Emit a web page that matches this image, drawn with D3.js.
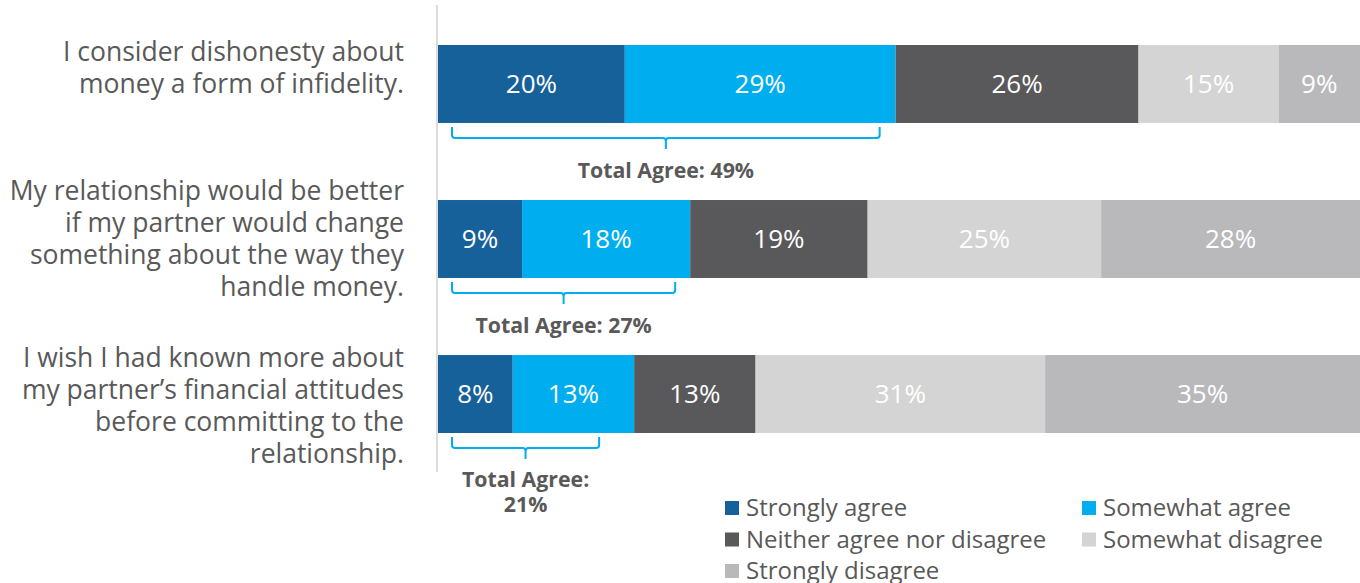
<!DOCTYPE html>
<html>
<head>
<meta charset="utf-8">
<script src="https://cdn.jsdelivr.net/npm/d3@7"></script>
<style>
  body { margin: 0; background: #fff; }
  svg { display: block; font-family: "Open Sans", sans-serif; }
</style>
</head>
<body>
<svg width="1360" height="583"></svg>
<script>
// statements, one per bar (lines as shown)
const questions = [
  ["I consider dishonesty about", "money a form of infidelity."],
  ["My relationship would be better", "if my partner would change", "something about the way they", "handle money."],
  ["I wish I had known more about", "my partner\u2019s financial attitudes", "before committing to the", "relationship."]
];

const categories = ["Strongly agree", "Somewhat agree", "Neither agree nor disagree", "Somewhat disagree", "Strongly disagree"];
const colors = ["#17619a", "#00aeef", "#59595b", "#d4d4d4", "#b9b9bb"];

// percent per category, per question
const strongAgree = [20, 9, 8];
const someAgree = [29, 18, 13];
const neither = [26, 19, 13];
const someDisagree = [15, 25, 31];
const strongDisagree = [9, 28, 35];
const totalAgree = ["Total Agree: 49%", "Total Agree: 27%", "Total Agree: 21%"];

const svg = d3.select("svg");
const grey = "#595959";

const x = d3.scaleLinear().domain([0, 100]).range([438, 1372]);
const y = d3.scaleBand()
  .domain(d3.range(questions.length))
  .range([45, 433])
  .paddingInner(0.497);

// stack the series
const rows = questions.map((q, i) => ({
  i,
  vals: [strongAgree[i], someAgree[i], neither[i], someDisagree[i], strongDisagree[i]]
}));
const segs = [];
rows.forEach(r => {
  let acc = 0;
  r.vals.forEach((v, k) => {
    segs.push({ row: r.i, k, x0: acc, x1: acc + v, v });
    acc += v;
  });
});

// vertical axis line
svg.append("line")
  .attr("x1", 437).attr("x2", 437)
  .attr("y1", 5).attr("y2", 472)
  .attr("stroke", "#dcdcdc").attr("stroke-width", 2);

svg.selectAll("rect.seg")
  .data(segs)
  .enter()
  .append("rect")
  .attr("class", "seg")
  .attr("x", d => x(d.x0))
  .attr("y", d => y(d.row))
  .attr("width", d => x(d.x1) - x(d.x0))
  .attr("height", y.bandwidth())
  .attr("fill", d => colors[d.k]);

svg.selectAll("text.val")
  .data(segs)
  .enter()
  .append("text")
  .attr("class", "val")
  .attr("x", d => (x(d.x0) + Math.min(x(d.x1), 1360)) / 2)
  .attr("y", d => y(d.row) + y.bandwidth() / 2 + 9)
  .attr("text-anchor", "middle")
  .attr("font-size", 26)
  .attr("fill", "#fff")
  .text(d => d.v + "%");

// question labels on the left
const labelShift = [-16, 0, 12];
questions.forEach((lines, i) => {
  const cy = y(i) + y.bandwidth() / 2 - (lines.length - 1) * 16 + labelShift[i];
  const t = svg.append("text")
    .attr("text-anchor", "end")
    .attr("font-size", 26.5)
    .attr("fill", grey);
  lines.forEach((l, j) => {
    t.append("tspan")
      .attr("x", 404)
      .attr("y", cy + j * 32 + 9)
      .text(l);
  });
});

// total agree brackets
const insetR = [16, 15, 35];
rows.forEach(r => {
  const agree = strongAgree[r.i] + someAgree[r.i];
  const x0 = x(0) + 14;
  const x1 = x(agree) - insetR[r.i];
  const top = y(r.i) + y.bandwidth() + 4;
  const mid = top + 11;
  const cx = (x0 + x1) / 2;
  const rad = 3;
  const p = d3.path();
  p.moveTo(x0, top);
  p.lineTo(x0, mid - rad);
  p.quadraticCurveTo(x0, mid, x0 + rad, mid);
  p.lineTo(cx - rad, mid);
  p.quadraticCurveTo(cx, mid, cx, mid + rad);
  p.lineTo(cx, mid + 11);
  p.moveTo(cx, mid + rad);
  p.quadraticCurveTo(cx, mid, cx + rad, mid);
  p.lineTo(x1 - rad, mid);
  p.quadraticCurveTo(x1, mid, x1, mid - rad);
  p.lineTo(x1, top);
  svg.append("path")
    .attr("d", p.toString())
    .attr("fill", "none")
    .attr("stroke", "#00aeef")
    .attr("stroke-width", 2);

  const label = svg.append("text")
    .attr("text-anchor", "middle")
    .attr("font-size", 21.3)
    .attr("font-weight", "bold")
    .attr("fill", grey);
  const txt = totalAgree[r.i];
  if (x1 - x0 < 200) {
    // too narrow, wrap onto two lines
    const parts = txt.split(" ");
    label.append("tspan").attr("x", cx).attr("y", mid + 39).text(parts.slice(0, 2).join(" "));
    label.append("tspan").attr("x", cx).attr("y", mid + 64).text(parts[2]);
  } else {
    label.append("tspan").attr("x", cx).attr("y", mid + 40).text(txt);
  }
});

// legend
const legend = svg.selectAll("g.leg")
  .data(categories)
  .enter()
  .append("g")
  .attr("class", "leg")
  .attr("transform", (d, i) => `translate(${i % 2 ? 1082 : 725},${508 + Math.floor(i / 2) * 31.5})`);

legend.append("rect")
  .attr("x", 0).attr("y", -7)
  .attr("width", 14).attr("height", 14)
  .attr("fill", (d, i) => colors[i]);

legend.append("text")
  .attr("x", 21)
  .attr("y", 8)
  .attr("font-size", 24)
  .attr("fill", grey)
  .text(d => d);
</script>
</body>
</html>
